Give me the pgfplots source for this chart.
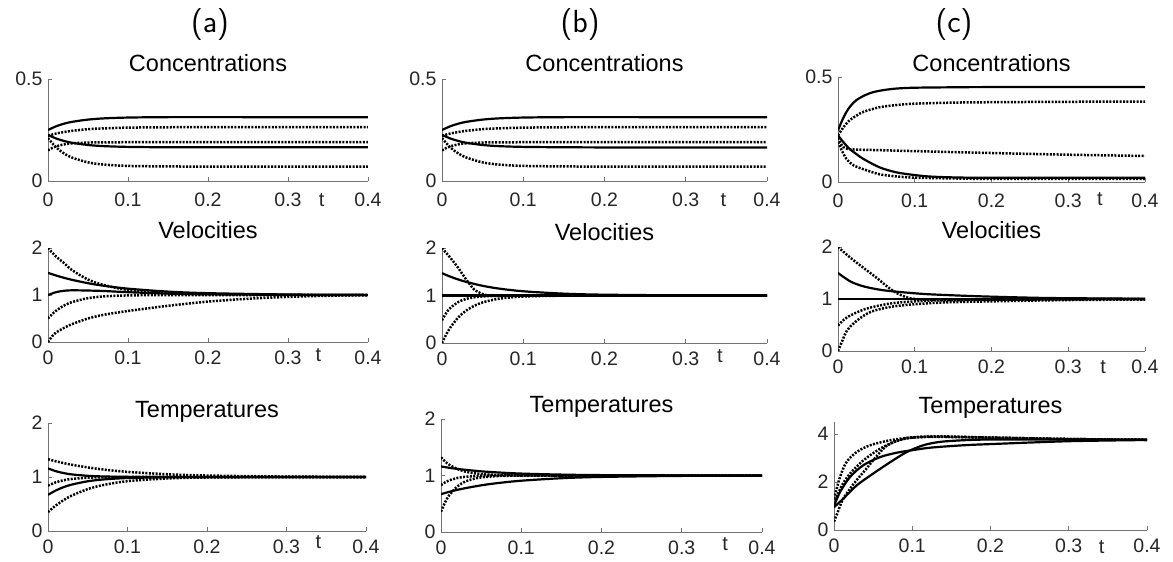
\documentclass[border=0pt]{standalone}
\usepackage{fontspec}
\setmainfont{Liberation Sans}
\usepackage{pgfplots}
\pgfplotsset{compat=1.18}
\definecolor{axgray}{gray}{0.45}
\definecolor{txtgray}{gray}{0.15}
\pgfplotsset{
  panel/.style={
    scale only axis,
    axis x line*=bottom, axis y line*=left,
    axis line style={-, draw=axgray, line width=0.7pt},
    every outer x axis line/.append style={-},
    every outer y axis line/.append style={-},
    tick style={draw=axgray, line width=0.7pt},
    tick align=inside,
    major tick length=4pt,
    xmin=0, xmax=0.4,
    xtick={0,0.1,0.2,0.3,0.4},
    scaled ticks=false,
    ticklabel style={font=\fontsize{19.5}{21}\selectfont, text=txtgray},
    /pgf/number format/assume math mode=true,
    xticklabel style={/pgf/number format/fixed, /pgf/number format/precision=1, yshift=-5pt},
    yticklabel style={xshift=-2pt},
    every axis title/.style={at={(0.5,1)}, anchor=base, font=\fontsize{23.5}{26}\selectfont},
    xlabel style={font=\fontsize{20}{22}\selectfont, anchor=north, inner sep=0pt, text=txtgray},
    xlabel={t},
  },
  toprow/.style={xticklabel style={yshift=-3pt}},
  conc/.style={ymin=0, ymax=0.5, ytick={0,0.5}, title={Concentrations}, toprow},
  vel/.style={ymin=0, ymax=2, ytick={0,1,2}, title={Velocities}},
  temp/.style={ymin=0, ymax=2, ytick={0,1,2}, title={Temperatures}},
  S/.style={black, line width=2.2pt, smooth, tension=0.5, line join=round},
  D/.style={black, line width=2.5pt, smooth, tension=0.5, dash pattern=on 2pt off 1.4pt},
}
\begin{document}
\begin{tikzpicture}
\useasboundingbox (0,0) rectangle (1173pt,-562pt);
\node[font=\fontsize{32}{34}\selectfont\sffamily] at (210pt,-25pt) {(a)};
\node[font=\fontsize{32}{34}\selectfont\sffamily] at (580pt,-25pt) {(b)};
\node[font=\fontsize{32}{34}\selectfont\sffamily] at (954pt,-25pt) {(c)};

% ---------------- (a) Concentrations
\begin{axis}[panel, conc, at={(48pt,-181pt)}, anchor=south west, width=320pt, height=102pt,
  title style={yshift=8pt}, xlabel style={at={(axis description cs:0.855,0)}, yshift=-12pt}]
\addplot[S] coordinates {(0,0.250)(0.01,0.268)(0.02,0.281)(0.03,0.290)(0.05,0.301)(0.07,0.307)(0.1,0.311)(0.15,0.313)(0.25,0.313)(0.4,0.313)};
\addplot[D] coordinates {(0,0.222)(0.01,0.2325)(0.02,0.240)(0.03,0.246)(0.05,0.254)(0.07,0.258)(0.1,0.2616)(0.15,0.2634)(0.2,0.264)(0.4,0.264)};
\addplot[S] coordinates {(0,0.226)(0.01,0.2087)(0.02,0.1963)(0.03,0.1874)(0.05,0.1765)(0.07,0.1709)(0.1,0.1672)(0.15,0.1654)(0.25,0.165)(0.4,0.165)};
\addplot[D] coordinates {(0,0.150)(0.005,0.1613)(0.01,0.1695)(0.02,0.1795)(0.03,0.1846)(0.05,0.1886)(0.07,0.1896)(0.1,0.19)(0.2,0.19)(0.4,0.19)};
\addplot[D] coordinates {(0,0.210)(0.01,0.1657)(0.02,0.1354)(0.03,0.1148)(0.05,0.0913)(0.07,0.0804)(0.1,0.074)(0.15,0.0714)(0.2,0.071)(0.4,0.071)};
\end{axis}

% ---------------- (a) Velocities
\begin{axis}[panel, vel, at={(48pt,-342pt)}, anchor=south west, width=320pt, height=94pt,
  title style={yshift=10pt}, xlabel style={at={(axis description cs:0.845,0)}, yshift=-6pt}]
\addplot[D] coordinates {(0,2.0)(0.01,1.82)(0.02,1.68)(0.03,1.53)(0.05,1.329)(0.07,1.211)(0.1,1.108)(0.15,1.036)(0.2,1.012)(0.3,1.001)(0.4,1.0)};
\addplot[S] coordinates {(0,1.47)(0.01,1.415)(0.02,1.366)(0.03,1.323)(0.05,1.251)(0.07,1.196)(0.1,1.135)(0.15,1.072)(0.2,1.039)(0.3,1.011)(0.4,1.003)};
\addplot[S] coordinates {(0,1.0)(0.01,1.06)(0.02,1.09)(0.03,1.10)(0.05,1.095)(0.07,1.085)(0.1,1.06)(0.15,1.03)(0.2,1.015)(0.3,1.003)(0.4,1.0)};
\addplot[D] coordinates {(0,0.5)(0.005,0.59)(0.01,0.665)(0.02,0.775)(0.03,0.849)(0.05,0.932)(0.07,0.970)(0.1,0.991)(0.15,0.999)(0.25,1.0)(0.4,1.0)};
\addplot[D] coordinates {(0,0)(0.005,0.12)(0.01,0.2)(0.02,0.3)(0.03,0.38)(0.05,0.5)(0.07,0.58)(0.1,0.66)(0.15,0.77)(0.2,0.86)(0.25,0.92)(0.3,0.96)(0.35,0.985)(0.4,1.0)};
\end{axis}

% ---------------- (a) Temperatures
\begin{axis}[panel, temp, at={(48pt,-531pt)}, anchor=south west, width=318pt, height=108pt,
  title style={yshift=6pt}, xlabel style={at={(axis description cs:0.85,0)}, yshift=-4pt}]
\addplot[D] coordinates {(0,1.33)(0.01,1.291)(0.02,1.257)(0.03,1.227)(0.05,1.177)(0.07,1.138)(0.1,1.095)(0.15,1.051)(0.2,1.027)(0.3,1.008)(0.4,1.002)};
\addplot[S] coordinates {(0,1.16)(0.01,1.107)(0.02,1.072)(0.03,1.048)(0.05,1.022)(0.07,1.01)(0.1,1.003)(0.15,1.0)(0.25,1.0)(0.4,1.0)};
\addplot[D] coordinates {(0,0.84)(0.01,0.903)(0.02,0.941)(0.03,0.964)(0.05,0.987)(0.07,0.995)(0.1,1.0)(0.2,1.0)(0.4,1.0)};
\addplot[S] coordinates {(0,0.67)(0.01,0.752)(0.02,0.814)(0.03,0.86)(0.05,0.921)(0.07,0.955)(0.1,0.981)(0.15,0.995)(0.2,0.999)(0.3,1.0)(0.4,1.0)};
\addplot[D] coordinates {(0,0.35)(0.01,0.475)(0.02,0.575)(0.03,0.657)(0.05,0.776)(0.07,0.853)(0.1,0.923)(0.15,0.973)(0.2,0.991)(0.3,0.999)(0.4,1.0)};
\end{axis}

% ---------------- (b) Concentrations
\begin{axis}[panel, conc, at={(442pt,-181pt)}, anchor=south west, width=325pt, height=102pt,
  title style={yshift=8pt}, xlabel style={at={(axis description cs:0.866,0)}, yshift=-12pt}]
\addplot[S] coordinates {(0,0.250)(0.01,0.268)(0.02,0.281)(0.03,0.290)(0.05,0.301)(0.07,0.307)(0.1,0.311)(0.15,0.313)(0.25,0.313)(0.4,0.313)};
\addplot[D] coordinates {(0,0.222)(0.01,0.2325)(0.02,0.240)(0.03,0.246)(0.05,0.254)(0.07,0.258)(0.1,0.2616)(0.15,0.2634)(0.2,0.264)(0.4,0.264)};
\addplot[S] coordinates {(0,0.226)(0.01,0.2087)(0.02,0.1963)(0.03,0.1874)(0.05,0.1765)(0.07,0.1709)(0.1,0.1672)(0.15,0.1654)(0.25,0.164)(0.4,0.164)};
\addplot[D] coordinates {(0,0.150)(0.005,0.1613)(0.01,0.1695)(0.02,0.1795)(0.03,0.1846)(0.05,0.1886)(0.07,0.1896)(0.1,0.19)(0.2,0.19)(0.4,0.19)};
\addplot[D] coordinates {(0,0.210)(0.01,0.1657)(0.02,0.1354)(0.03,0.1148)(0.05,0.0913)(0.07,0.0804)(0.1,0.074)(0.15,0.0714)(0.2,0.071)(0.4,0.071)};
\end{axis}

% ---------------- (b) Velocities
\begin{axis}[panel, vel, at={(442pt,-343pt)}, anchor=south west, width=325pt, height=95pt,
  title style={yshift=8pt}, xlabel style={at={(axis description cs:0.855,0)}, yshift=-6pt}]
\addplot[D] coordinates {(0,2.0)(0.01,1.8)(0.02,1.58)(0.03,1.33)(0.035,1.22)(0.04,1.12)(0.05,1.03)(0.06,0.995)(0.08,0.99)(0.1,1.0)(0.2,1.0)(0.4,1.0)};
\addplot[S] coordinates {(0,1.47)(0.01,1.398)(0.02,1.337)(0.03,1.285)(0.05,1.204)(0.07,1.146)(0.1,1.089)(0.15,1.039)(0.2,1.017)(0.3,1.003)(0.4,1.0)};
\addplot[S] coordinates {(0,1.0)(0.2,1.0)(0.4,1.0)};
\addplot[D] coordinates {(0,0.48)(0.005,0.627)(0.01,0.733)(0.02,0.863)(0.03,0.930)(0.04,0.964)(0.05,0.981)(0.07,0.995)(0.1,1.0)(0.2,1.0)(0.4,1.0)};
\addplot[D] coordinates {(0,0)(0.005,0.175)(0.01,0.319)(0.02,0.537)(0.03,0.685)(0.04,0.785)(0.05,0.854)(0.07,0.932)(0.1,0.979)(0.15,0.997)(0.2,1.0)(0.4,1.0)};
\end{axis}

% ---------------- (b) Temperatures
\begin{axis}[panel, temp, at={(441pt,-532pt)}, anchor=south west, width=321pt, height=113pt,
  title style={yshift=7pt}, xlabel style={at={(axis description cs:0.885,0)}, yshift=-5pt}]
\addplot[D] coordinates {(0,1.32)(0.005,1.249)(0.01,1.194)(0.02,1.118)(0.03,1.071)(0.04,1.043)(0.05,1.026)(0.07,1.01)(0.1,1.002)(0.15,1.0)(0.4,1.0)};
\addplot[S] coordinates {(0,1.16)(0.01,1.137)(0.02,1.118)(0.03,1.101)(0.05,1.074)(0.07,1.055)(0.1,1.034)(0.15,1.016)(0.2,1.007)(0.3,1.002)(0.4,1.0)};
\addplot[D] coordinates {(0,0.83)(0.005,0.878)(0.01,0.913)(0.02,0.955)(0.03,0.977)(0.05,0.994)(0.07,1.0)(0.2,1.0)(0.4,1.0)};
\addplot[S] coordinates {(0,0.67)(0.01,0.71)(0.02,0.745)(0.03,0.775)(0.05,0.826)(0.07,0.865)(0.1,0.908)(0.15,0.952)(0.2,0.975)(0.3,0.993)(0.4,0.998)};
\addplot[D] coordinates {(0,0.36)(0.005,0.523)(0.01,0.645)(0.02,0.803)(0.03,0.891)(0.04,0.939)(0.05,0.966)(0.07,0.99)(0.1,0.998)(0.15,1.0)(0.4,1.0)};
\end{axis}

% ---------------- (c) Concentrations
\begin{axis}[panel, conc, at={(838pt,-182pt)}, anchor=south west, width=307pt, height=105pt,
  title style={yshift=6pt}, xlabel style={at={(axis description cs:0.853,0)}, yshift=-10pt}]
\addplot[S] coordinates {(0,0.246)(0.005,0.29)(0.011,0.334)(0.017,0.365)(0.024,0.39)(0.035,0.413)(0.046,0.428)(0.06,0.438)(0.076,0.445)(0.1,0.449)(0.15,0.451)(0.2,0.452)(0.4,0.452)};
\addplot[D] coordinates {(0,0.222)(0.007,0.26)(0.015,0.294)(0.024,0.316)(0.033,0.334)(0.054,0.356)(0.075,0.366)(0.1,0.373)(0.15,0.378)(0.2,0.38)(0.3,0.382)(0.4,0.383)};
\addplot[D] coordinates {(0,0.21)(0.005,0.175)(0.01,0.16)(0.02,0.155)(0.05,0.152)(0.1,0.147)(0.2,0.138)(0.3,0.13)(0.4,0.124)};
\addplot[D] coordinates {(0,0.19)(0.005,0.15)(0.011,0.11)(0.02,0.08)(0.033,0.061)(0.054,0.037)(0.075,0.027)(0.098,0.021)(0.15,0.017)(0.2,0.015)(0.4,0.015)};
\addplot[S] coordinates {(0,0.222)(0.007,0.19)(0.015,0.158)(0.025,0.13)(0.033,0.11)(0.054,0.07)(0.076,0.046)(0.1,0.033)(0.12,0.026)(0.15,0.022)(0.2,0.02)(0.4,0.02)};
\end{axis}

% ---------------- (c) Velocities
\begin{axis}[panel, vel, at={(838pt,-351pt)}, anchor=south west, width=307pt, height=104pt,
  title style={yshift=9pt}, xlabel style={at={(axis description cs:0.864,0)}, yshift=-9pt}]
\addplot[D] coordinates {(0,2.0)(0.0165,1.79)(0.034,1.59)(0.051,1.40)(0.064,1.24)(0.077,1.11)(0.09,1.03)(0.1,1.0)(0.12,0.985)(0.15,0.985)(0.2,0.99)(0.3,1.0)(0.4,1.0)};
\addplot[S] coordinates {(0,1.50)(0.0165,1.335)(0.034,1.24)(0.056,1.175)(0.077,1.14)(0.1,1.11)(0.12,1.09)(0.16,1.065)(0.2,1.045)(0.27,1.02)(0.35,1.01)(0.4,1.005)};
\addplot[S] coordinates {(0,1.0)(0.2,1.0)(0.4,1.0)};
\addplot[D] coordinates {(0,0.49)(0.012,0.65)(0.034,0.80)(0.056,0.88)(0.077,0.93)(0.12,0.97)(0.16,0.98)(0.25,0.99)(0.4,1.0)};
\addplot[D] coordinates {(0,0)(0.006,0.21)(0.012,0.4)(0.025,0.59)(0.043,0.755)(0.069,0.85)(0.1,0.9)(0.14,0.935)(0.2,0.955)(0.3,0.98)(0.4,0.99)};
\end{axis}

% ---------------- (c) Temperatures
\begin{axis}[panel, ymin=0, ymax=4.5, ytick={0,2,4}, title={Temperatures}, at={(834pt,-530pt)}, anchor=south west, width=313pt, height=108pt,
  title style={yshift=9pt}, xlabel style={at={(axis description cs:0.855,0)}, yshift=-10pt}]
\addplot[D] coordinates {(0,1.3)(0.0077,2.21)(0.016,2.83)(0.029,3.25)(0.046,3.53)(0.072,3.74)(0.1,3.86)(0.135,3.9)(0.165,3.88)(0.2,3.85)(0.3,3.79)(0.4,3.76)};
\addplot[D] coordinates {(0,1.1)(0.01,1.85)(0.0205,2.35)(0.0375,2.9)(0.059,3.39)(0.08,3.71)(0.1,3.85)(0.13,3.89)(0.2,3.85)(0.3,3.79)(0.4,3.76)};
\addplot[D] coordinates {(0,0.35)(0.004,0.68)(0.012,1.31)(0.027,2.0)(0.04,2.5)(0.05,2.9)(0.067,3.5)(0.089,3.8)(0.12,3.88)(0.2,3.85)(0.3,3.79)(0.4,3.76)};
\addplot[S] coordinates {(0,1.0)(0.0077,1.58)(0.0205,2.21)(0.0375,2.7)(0.059,3.04)(0.08,3.22)(0.093,3.29)(0.123,3.43)(0.165,3.53)(0.2,3.58)(0.3,3.7)(0.4,3.75)};
\addplot[S] coordinates {(0,0.95)(0.012,1.31)(0.029,1.86)(0.05,2.35)(0.072,2.83)(0.093,3.25)(0.114,3.53)(0.135,3.67)(0.165,3.74)(0.2,3.77)(0.3,3.77)(0.4,3.76)};
\end{axis}
\end{tikzpicture}
\end{document}
